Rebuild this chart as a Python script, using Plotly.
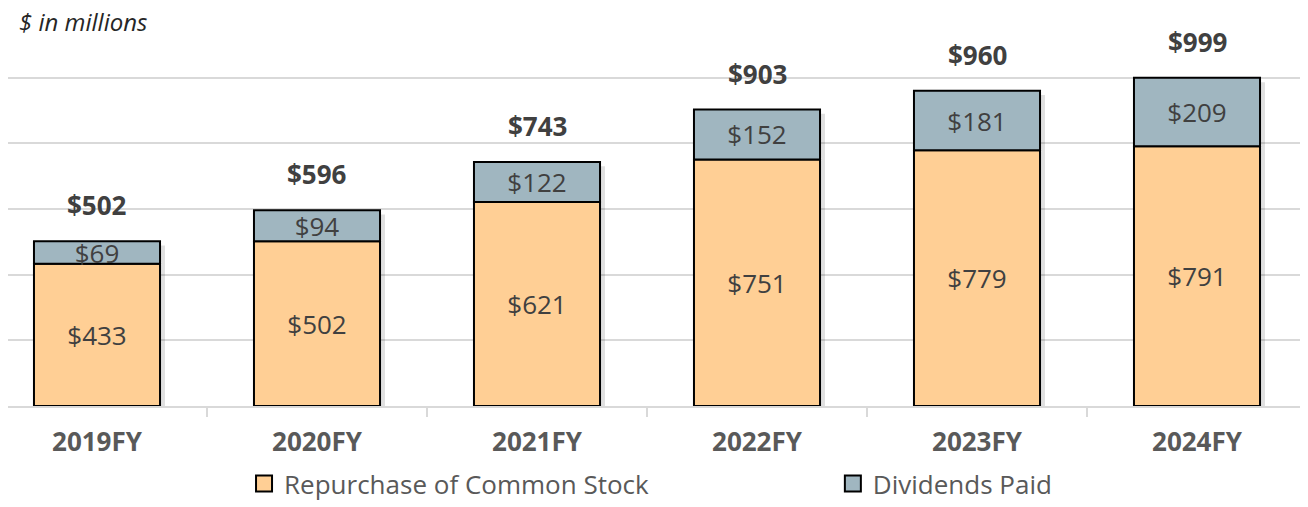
import plotly.graph_objects as go

years      = ["2019FY", "2020FY", "2021FY", "2022FY", "2023FY", "2024FY"]
repurchase = [433, 502, 621, 751, 779, 791]
dividends  = [69, 94, 122, 152, 181, 209]
totals     = [502, 596, 743, 903, 960, 999]

BAR_W   = 0.573
ORANGE  = "#FFCF95"
BLUEGRY = "#A0B6C0"
FONT    = "Open Sans"

fig = go.Figure()

# soft shadow behind each stack
fig.add_trace(go.Bar(x=years, y=[t - 10 for t in totals], base=-3, width=BAR_W,
                     offset=-BAR_W / 2 + 5 / 220, marker=dict(color="rgba(0,0,0,0.12)", line_width=0),
                     showlegend=False, hoverinfo="skip"))

fig.add_trace(go.Bar(x=years, y=repurchase, name="Repurchase of Common Stock", width=BAR_W,
                     marker=dict(color=ORANGE, line=dict(color="#000000", width=2)),
                     text=[f"${v}" for v in repurchase], textposition="inside",
                     insidetextanchor="middle", constraintext="none", showlegend=False,
                     textfont=dict(family=FONT, size=26, color="#404040")))
fig.add_trace(go.Bar(x=years, y=dividends, base=repurchase, name="Dividends Paid", width=BAR_W,
                     marker=dict(color=BLUEGRY, line=dict(color="#000000", width=2)),
                     text=[f"${v}" for v in dividends], textposition="inside",
                     insidetextanchor="middle", constraintext="none", showlegend=False,
                     textfont=dict(family=FONT, size=26, color="#404040")))

# legend entries with bigger square swatches, one legend each so they sit far apart
for name, col, lg in [("Repurchase of Common Stock", ORANGE, "legend"), ("Dividends Paid", BLUEGRY, "legend2")]:
    fig.add_trace(go.Scatter(x=[None], y=[None], mode="markers", name=name, legend=lg,
                             marker=dict(symbol="square", size=16, color=col,
                                         line=dict(color="#000000", width=2))))

# totals above the stacks
for yr, t in zip(years, totals):
    fig.add_annotation(x=yr, y=t, text=f"${t}", showarrow=False, yanchor="bottom", yshift=16,
                       font=dict(family=FONT, size=26, color="#404040", weight="bold"))

fig.add_annotation(x=10 / 1299, y=1.0, xref="paper", yref="paper", text="$ in millions",
                   showarrow=False, xanchor="left", yanchor="middle", yshift=-10, borderpad=0,
                   font=dict(family=FONT, size=24, color="#262626", style="italic"))

leg_style = dict(orientation="h", y=-0.197, yanchor="middle", xanchor="left",
                 font=dict(family=FONT, size=26, color="#595959"), bgcolor="rgba(0,0,0,0)")

fig.update_layout(
    width=1300, height=499, barmode="overlay",
    paper_bgcolor="white", plot_bgcolor="white",
    font=dict(family=FONT, color="#595959"),
    margin=dict(l=0, r=1, t=3, b=100),
    uniformtext=dict(minsize=26, mode="show"),
    legend=dict(x=0.1817, **leg_style),
    legend2=dict(x=0.635, **leg_style),
    hovermode=False,
)
fig.update_xaxes(range=[-89 / 220, 5.5], showline=True, linecolor="#D9D9D9", linewidth=2,
                 ticks="outside", tickson="boundaries", ticklen=9, tickcolor="#D9D9D9", tickwidth=1.5,
                 ticklabelstandoff=12,
                 tickfont=dict(family=FONT, size=26, color="#595959", weight="bold"), showgrid=False)
fig.update_yaxes(range=[0, 1203], tickvals=[200, 400, 600, 800, 1000, 1200], showticklabels=False,
                 gridcolor="#D9D9D9", gridwidth=1.5, zeroline=False)

fig.write_html("out.html")
